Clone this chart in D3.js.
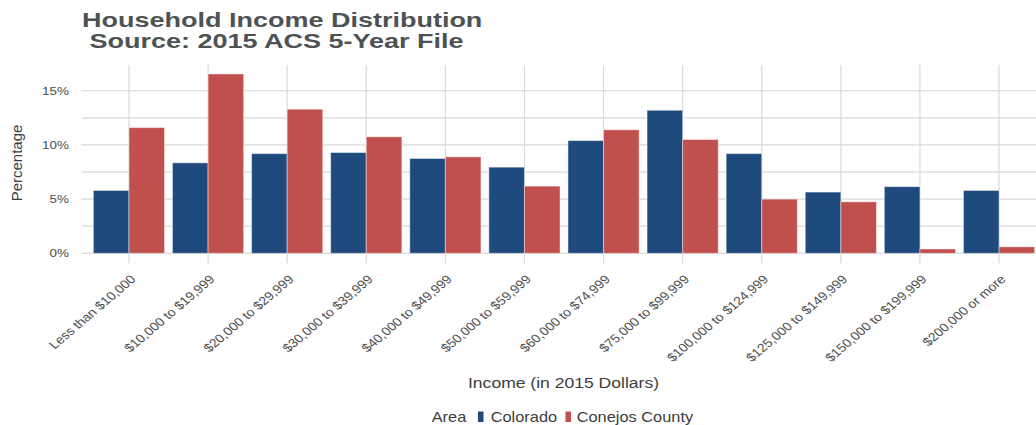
<!DOCTYPE html>
<html>
<head>
<meta charset="utf-8">
<script src="https://cdn.jsdelivr.net/npm/d3@7"></script>
<style>
	body { margin: 0; background: #ffffff; }
	text { font-family: "Liberation Sans", Arial, sans-serif; }
</style>
</head>
<body>
<div id="chart"></div>
<script>

var categories = ["Less than $10,000", "$10,000 to $19,999", "$20,000 to $29,999", "$30,000 to $39,999",
	"$40,000 to $49,999", "$50,000 to $59,999", "$60,000 to $74,999", "$75,000 to $99,999",
	"$100,000 to $124,999", "$125,000 to $149,999", "$150,000 to $199,999", "$200,000 or more"];

var areas = ["Colorado", "Conejos County"];

var colorado = [5.8, 8.35, 9.2, 9.3, 8.75, 7.95, 10.4, 13.2, 9.2, 5.65, 6.15, 5.8];
var conejos = [11.6, 16.55, 13.3, 10.75, 8.9, 6.2, 11.4, 10.5, 5.0, 4.75, 0.4, 0.6];

var yTicks = [0, 5, 10, 15];
var yMinor = [2.5, 7.5, 12.5];

function init(){

	var w = 1036;
	var h = 425;

	//panel edges (the panel runs past the right side of the picture)
	var left = 81.5, right = 1046.5, top = 65, bottom = 253.3;
	//the original text is stretched sideways
	var sx = 1.17;

	var colors = d3.scaleOrdinal().domain(areas).range(["#1f4a7e", "#c0504d"]);

	var svg = d3.select("#chart")
				.append("svg")
				.attr("width", w)
				.attr("height", h);

	var x = d3.scaleBand()
				.domain(categories)
				.range([left, right])
				.paddingInner(0.1)
				.paddingOuter(0.15);

	var xInner = d3.scaleBand()
				.domain(areas)
				.range([0, x.bandwidth()]);

	var yMax = d3.max(colorado.concat(conejos)) * 1.05;
	var y = d3.scaleLinear()
				.domain([0, yMax])
				.range([bottom, top]);

	//grid lines
	var grid = svg.append("g").attr("stroke", "#d9d9d9").attr("stroke-width", 1.2);
	grid.selectAll("line.minor")
		.data(yMinor)
		.enter()
		.append("line")
		.attr("x1", left).attr("x2", right)
		.attr("y1", function(d){ return y(d); })
		.attr("y2", function(d){ return y(d); });
	grid.selectAll("line.major")
		.data(yTicks)
		.enter()
		.append("line")
		.attr("x1", left).attr("x2", right)
		.attr("y1", function(d){ return y(d); })
		.attr("y2", function(d){ return y(d); });
	grid.selectAll("line.vert")
		.data(categories)
		.enter()
		.append("line")
		.attr("x1", function(d){ return x(d) + x.bandwidth() / 2; })
		.attr("x2", function(d){ return x(d) + x.bandwidth() / 2; })
		.attr("y1", top)
		.attr("y2", bottom + 10);

	//bars
	var rows = categories.map(function(c, i){
		return [{cat: c, area: areas[0], value: colorado[i]}, {cat: c, area: areas[1], value: conejos[i]}];
	});

	svg.selectAll("g.cat")
		.data(rows)
		.enter()
		.append("g")
		.attr("class", "cat")
		.attr("transform", function(d){ return "translate(" + x(d[0].cat) + ",0)"; })
		.selectAll("rect")
		.data(function(d){ return d; })
		.enter()
		.append("rect")
		.attr("x", function(d){ return xInner(d.area); })
		.attr("width", xInner.bandwidth())
		.attr("y", function(d){ return y(d.value); })
		.attr("height", function(d){ return y(0) - y(d.value); })
		.attr("fill", function(d){ return colors(d.area); })
		.attr("stroke", "#ffffff")
		.attr("stroke-opacity", 0.45)
		.attr("stroke-width", 1);

	//y tick labels
	svg.selectAll("text.ytick")
		.data(yTicks)
		.enter()
		.append("text")
		.attr("class", "ytick")
		.attr("transform", function(d){ return "translate(69," + (y(d) + 4) + ") scale(" + sx + ",1)"; })
		.attr("text-anchor", "end")
		.attr("font-size", 11.5)
		.attr("fill", "#4d4d4d")
		.text(function(d){ return d + "%"; });

	//x tick labels, rotated
	svg.selectAll("text.xtick")
		.data(categories)
		.enter()
		.append("text")
		.attr("class", "xtick")
		.attr("transform", function(d){
			return "translate(" + (x(d) + x.bandwidth() / 2 + 7.5) + ",280) scale(" + sx + ",1) rotate(-45)";
		})
		.attr("text-anchor", "end")
		.attr("font-size", 12)
		.attr("fill", "#4d4d4d")
		.text(function(d){ return d; });

	//axis titles
	svg.append("text")
		.attr("transform", "translate(22," + 163 + ") rotate(-90)")
		.attr("text-anchor", "middle")
		.attr("font-size", 15)
		.attr("fill", "#3d3d3d")
		.text("Percentage");

	svg.append("text")
		.attr("transform", "translate(563.5,388) scale(" + sx + ",1)")
		.attr("text-anchor", "middle")
		.attr("font-size", 15)
		.attr("fill", "#3d3d3d")
		.text("Income (in 2015 Dollars)");

	//title
	var title = svg.append("text")
		.attr("font-size", 20)
		.attr("font-weight", "bold")
		.attr("fill", "#4d5254")
		.style("white-space", "pre");
	title.append("tspan").attr("x", 0).attr("y", 0).text("Household Income Distribution");
	title.append("tspan").attr("x", 0).attr("y", 21).text(" Source: 2015 ACS 5-Year File");
	title.attr("transform", "translate(82,26.7) scale(1.35,1)");

	//legend
	var legend = svg.append("g").attr("font-size", 14).attr("fill", "#3d3d3d");
	legend.append("text")
		.attr("transform", "translate(431.7,422) scale(" + sx + ",1)")
		.text("Area");
	var keyX = [478, 565.5];
	var labelX = [490.7, 576.7];
	areas.forEach(function(a, i){
		legend.append("rect")
			.attr("x", keyX[i]).attr("y", 411.5)
			.attr("width", 5.5).attr("height", 10.5)
			.attr("fill", colors(a));
		legend.append("text")
			.attr("transform", "translate(" + labelX[i] + ",422) scale(" + sx + ",1)")
			.text(a);
	});
}

window.onload = init;
</script>
</body>
</html>
